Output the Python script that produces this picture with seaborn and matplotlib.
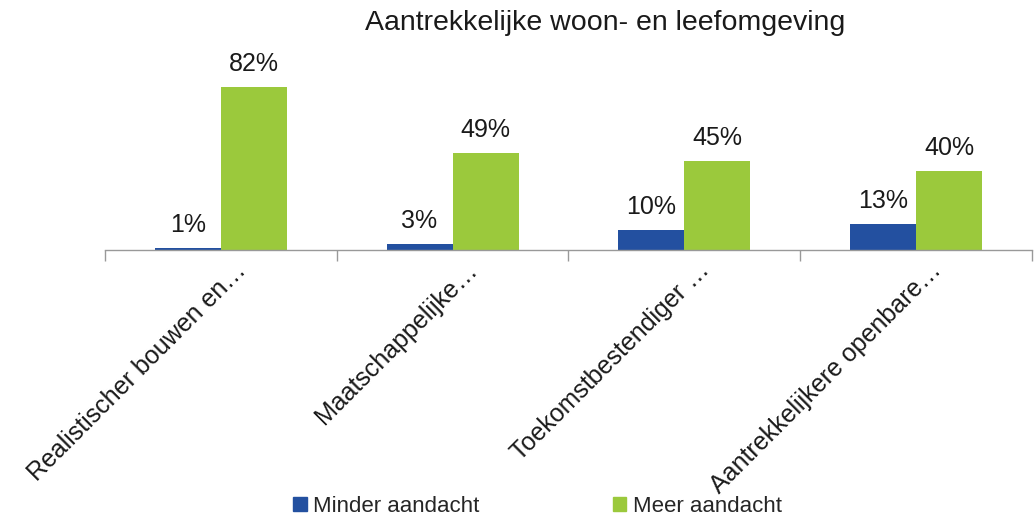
import pandas as pd
import seaborn as sns
import matplotlib.pyplot as plt
from matplotlib.patches import Patch
from matplotlib.transforms import ScaledTranslation

CATEGORIES = [
    "Realistischer bouwen en\u2026",
    "Maatschappelijke\u2026",
    "Toekomstbestendiger \u2026",
    "Aantrekkelijkere openbare\u2026",
]
MINDER = [1, 3, 10, 13]
MEER = [82, 49, 45, 40]
SERIES = ["Minder aandacht", "Meer aandacht"]

BLUE = "#2350A0"
GREEN = "#9BC93C"

df = pd.DataFrame({"categorie": CATEGORIES, SERIES[0]: MINDER, SERIES[1]: MEER})
plot_df = df.melt(id_vars="categorie", var_name="reeks", value_name="pct")

sns.set_theme(style="white")
plt.rcParams["font.family"] = ["Liberation Sans", "DejaVu Sans"]

fig = plt.figure(figsize=(10.34, 5.18), dpi=100)
ax = fig.add_axes([0.1015, 0.517, 0.8965, 0.345])

sns.barplot(
    data=plot_df, x="categorie", y="pct", hue="reeks",
    order=CATEGORIES, hue_order=SERIES,
    palette={SERIES[0]: BLUE, SERIES[1]: GREEN},
    width=0.57, ax=ax, legend=False, saturation=1, linewidth=0,
)

for container in ax.containers:
    ax.bar_label(container, fmt="%d%%", padding=8, fontsize=18, color="#1a1a1a")

ax.set_ylim(0, 90)
ax.set_xlim(-0.5, len(CATEGORIES) - 0.5)
ax.set_xlabel("")
ax.set_ylabel("")
ax.set_yticks([])
for side in ["left", "right", "top"]:
    ax.spines[side].set_visible(False)
ax.spines["bottom"].set_color("#999999")
ax.spines["bottom"].set_linewidth(1)

# category boundaries as tick marks
ax.set_xticks([i - 0.5 for i in range(len(CATEGORIES) + 1)], minor=True)
ax.tick_params(axis="x", which="minor", length=8, color="#999999", width=1, bottom=True)
ax.tick_params(axis="x", which="major", length=0, pad=8)
ax.set_xticks(range(len(CATEGORIES)))
ax.set_xticklabels(CATEGORIES, rotation=45, ha="right", rotation_mode="anchor",
                   fontsize=18, color="#1a1a1a")
shift = ScaledTranslation(13 / 100, 3 / 100, fig.dpi_scale_trans)
for lbl in ax.get_xticklabels():
    lbl.set_transform(lbl.get_transform() + shift)

fig.text(0.585, 0.955, "Aantrekkelijke woon- en leefomgeving", ha="center", va="center",
         fontsize=20.5, color="#1a1a1a")

handles = [Patch(color=BLUE), Patch(color=GREEN)]
fig.legend(handles, SERIES, loc="center", bbox_to_anchor=(0.52, 0.022), ncol=2,
           frameon=False, fontsize=16, handlelength=0.6, handleheight=0.6,
           handletextpad=0.3, columnspacing=6.0)

fig.savefig("out.png", dpi=100)
